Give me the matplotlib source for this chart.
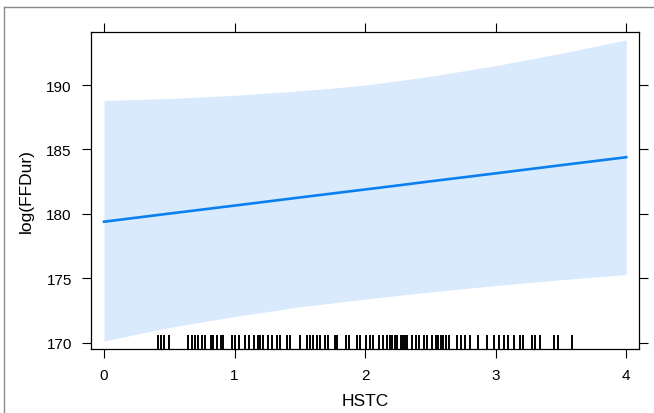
import matplotlib
matplotlib.use("Agg")
import matplotlib.pyplot as plt
from matplotlib.lines import Line2D

plt.rcParams['font.family'] = ['Liberation Sans', 'DejaVu Sans']

# effect curve and confidence band
hstc = [0, 0.5, 1, 1.5, 1.75, 2, 2.25, 2.5, 3, 3.5, 4]
fit = [179.4, 180.03, 180.65, 181.28, 181.59, 181.9, 182.21, 182.53, 183.15, 183.78, 184.4]
upper = [188.8, 188.95, 189.2, 189.55, 189.76, 190.0, 190.32, 190.68, 191.5, 192.45, 193.5]
lower = [170.15, 171.2, 172.05, 172.8, 173.1, 173.4, 173.68, 173.95, 174.45, 174.9, 175.3]

# rug of observed HSTC values
rug = [0.41, 0.44, 0.46, 0.50,
       0.646, 0.672, 0.697, 0.723, 0.748, 0.774, 0.817, 0.838, 0.863, 0.894,
       0.914, 0.978, 1.004, 1.034, 1.08, 1.11, 1.149, 1.178, 1.195, 1.216,
       1.254, 1.285, 1.328, 1.349, 1.40, 1.425, 1.502, 1.558, 1.579, 1.604,
       1.63, 1.655, 1.693, 1.719, 1.77, 1.788, 1.854, 1.88, 1.936, 1.962,
       2.008, 2.038, 2.059, 2.11, 2.14, 2.171, 2.187, 2.204, 2.225, 2.243,
       2.273, 2.289, 2.307, 2.324, 2.358, 2.388, 2.409, 2.452, 2.473, 2.511,
       2.544, 2.562, 2.58, 2.60, 2.621, 2.641, 2.707, 2.733, 2.766, 2.805,
       2.868, 2.933, 2.989, 3.027, 3.06, 3.098, 3.137, 3.188, 3.213, 3.277,
       3.303, 3.341, 3.448, 3.474, 3.584]

xticks = [0, 1, 2, 3, 4]
yticks = [170, 175, 180, 185, 190]

fig = plt.figure(figsize=(6.54, 4.14), dpi=100)
ax = fig.add_axes([0.1391, 0.1546, 0.8384, 0.7657])

ax.fill_between(hstc, lower, upper, color="#D9EAFD", linewidth=0)
ax.plot(hstc, fit, color="#0A80F0", linewidth=1.9)
ax.vlines(rug, 0, 0.045, transform=ax.get_xaxis_transform(),
          color="black", linewidth=1.4)

ax.set_xlim(-0.1, 4.1)
ax.set_ylim(169.53, 194.11)
ax.set_xticks(xticks)
ax.set_yticks(yticks)
ax.tick_params(direction="out", length=6.8, width=0.8, labelsize=11, pad=7,
               top=True, right=True, labeltop=False, labelright=False)
for s in ax.spines.values():
    s.set_linewidth(0.9)

ax.set_xlabel("HSTC", fontsize=12.5, labelpad=8)
ax.set_ylabel("log(FFDur)", fontsize=12.5, labelpad=9)

# outer grey frame (only top and left visible)
fig.add_artist(Line2D([4 / 654, 1], [1 - 8 / 414, 1 - 8 / 414],
                      transform=fig.transFigure, color="#8a8a8a", linewidth=1))
fig.add_artist(Line2D([4 / 654, 4 / 654], [0, 1 - 8 / 414],
                      transform=fig.transFigure, color="#8a8a8a", linewidth=1))

fig.savefig("out.png", dpi=100)
